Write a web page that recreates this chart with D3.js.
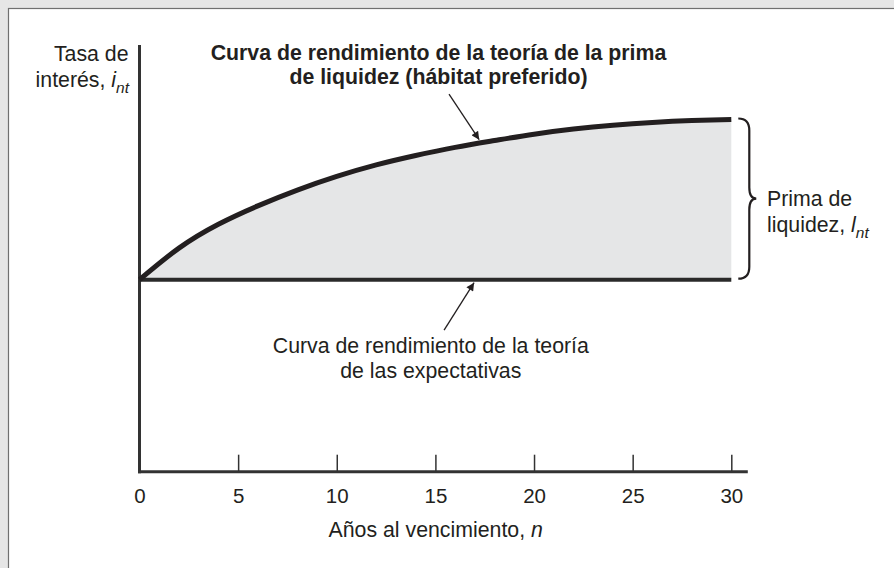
<!DOCTYPE html>
<html>
<head>
<meta charset="utf-8">
<script src="https://cdn.jsdelivr.net/npm/d3@7"></script>
<style>
  html, body { margin: 0; padding: 0; background: #e6e6e6; }
  svg { display: block; }
  text { font-family: "Liberation Sans", Arial, Helvetica, sans-serif; fill: #231f20; }
</style>
</head>
<body>
<div id="chart"></div>
<script>
// ---- data ----
const years = [0, 2, 4, 6, 8, 10, 12, 14, 16, 18, 20, 22, 24, 26, 28, 30];
const liquidityCurve = [4.50, 5.24, 5.80, 6.23, 6.60, 6.92, 7.19, 7.41, 7.60, 7.76, 7.91, 8.03, 8.12, 8.186, 8.23, 8.254];
const expectationsCurve = [4.50, 4.50, 4.50, 4.50, 4.50, 4.50, 4.50, 4.50, 4.50, 4.50, 4.50, 4.50, 4.50, 4.50, 4.50, 4.50];
const tickValues = [0, 5, 10, 15, 20, 25, 30];
const tickLabels = ["0", "5", "10", "15", "20", "25", "30"];
const titleLines = ["Curva de rendimiento de la teoría de la prima", "de liquidez (hábitat preferido)"];
const expLines = ["Curva de rendimiento de la teoría", "de las expectativas"];

const W = 894, H = 568;
const ink = "#231f20";
const fs = 21.3;

const svg = d3.select("#chart").append("svg").attr("width", W).attr("height", H);

// panel
svg.append("rect").attr("x", 8.5).attr("y", 8.5).attr("width", W).attr("height", H)
  .attr("fill", "#ffffff").attr("stroke", "#707070").attr("stroke-width", 1.2);

const x = d3.scaleLinear().domain([0, 30]).range([139.5, 731.3]);
const y = d3.scaleLinear().domain([0, 10]).range([471.7, 45]);

const pts = years.map((d, i) => ({ n: d, top: liquidityCurve[i], base: expectationsCurve[i] }));
const smooth = d3.curveNatural;

// shaded area (liquidity premium)
svg.append("path").datum(pts)
  .attr("fill", "#e5e6e7")
  .attr("d", d3.area().x(d => x(d.n)).y0(d => y(d.base)).y1(d => y(d.top)).curve(smooth));

// y axis line
svg.append("line")
  .attr("x1", x(0)).attr("x2", x(0))
  .attr("y1", y(10)).attr("y2", y(0) + 1.5)
  .attr("stroke", "#333").attr("stroke-width", 3);

// x axis
const xAxis = d3.axisBottom(x).tickValues(tickValues).tickFormat((d, i) => tickLabels[i])
  .tickSizeInner(-17).tickSizeOuter(0).tickPadding(17);
const gx = svg.append("g").attr("transform", `translate(0,${y(0)})`).call(xAxis);
gx.select(".domain").remove();
gx.selectAll(".tick line").attr("stroke", "#333").attr("stroke-width", 1.5);
gx.selectAll(".tick text").attr("font-size", 20.5).attr("fill", ink)
  .style("font-family", '"Liberation Sans", Arial, sans-serif');
gx.append("line")
  .attr("x1", x(0) - 1.5).attr("x2", x.range()[1] + 16.5)
  .attr("y1", 0).attr("y2", 0)
  .attr("stroke", "#333").attr("stroke-width", 3);

// expectations line (flat)
svg.append("path").datum(pts)
  .attr("fill", "none").attr("stroke", "#2a2a2a").attr("stroke-width", 4)
  .attr("d", d3.line().x(d => x(d.n)).y(d => y(d.base)));

// liquidity premium curve
svg.append("path").datum(pts)
  .attr("fill", "none").attr("stroke", ink).attr("stroke-width", 5).attr("stroke-linecap", "butt")
  .attr("d", d3.line().x(d => x(d.n)).y(d => y(d.top)).curve(smooth));

// arrow marker
const defs = svg.append("defs");
defs.append("marker").attr("id", "ah").attr("viewBox", "0 0 10 10")
  .attr("refX", 10).attr("refY", 5).attr("markerWidth", 11).attr("markerHeight", 8)
  .attr("markerUnits", "userSpaceOnUse").attr("orient", "auto")
  .append("path").attr("d", "M0,0 L10,5 L0,10 Z").attr("fill", ink);

// top arrow
svg.append("line")
  .attr("x1", x(15.69)).attr("y1", y(8.85))
  .attr("x2", x(17.22)).attr("y2", y(7.78))
  .attr("stroke", ink).attr("stroke-width", 1.3).attr("marker-end", "url(#ah)");
// bottom arrow
svg.append("line")
  .attr("x1", x(15.44)).attr("y1", y(3.32))
  .attr("x2", x(16.96)).attr("y2", y(4.43))
  .attr("stroke", ink).attr("stroke-width", 1.3).attr("marker-end", "url(#ah)");

// brace
const bTop = y(liquidityCurve[liquidityCurve.length - 1]) - 1;
const bBot = y(expectationsCurve[expectationsCurve.length - 1]) - 1;
const bx0 = x(30) + 7, bx1 = x(30) + 18, bxt = x(30) + 25;
const bMid = (bTop + bBot) / 2;
svg.append("path")
  .attr("d", `M${bx0},${bTop} Q${bx1},${bTop} ${bx1},${bTop + 12} L${bx1},${bMid - 11} Q${bx1},${bMid} ${bxt},${bMid} Q${bx1},${bMid} ${bx1},${bMid + 11} L${bx1},${bBot - 12} Q${bx1},${bBot} ${bx0},${bBot}`)
  .attr("fill", "none").attr("stroke", ink).attr("stroke-width", 2.2);

// title
const title = svg.append("text").attr("text-anchor", "middle").attr("font-weight", "bold").attr("font-size", fs);
titleLines.forEach((t, i) => title.append("tspan").attr("x", 438.5).attr("y", 59.5 + i * 24.5).text(t));

// expectations label
const exp = svg.append("text").attr("text-anchor", "middle").attr("font-size", fs);
expLines.forEach((t, i) => exp.append("tspan").attr("x", 430.8).attr("y", 352.7 + i * 24.8).text(t));

// y label
svg.append("text").attr("text-anchor", "end").attr("font-size", fs).attr("x", 128.5).attr("y", 61).text("Tasa de");
const yl2 = svg.append("text").attr("text-anchor", "end").attr("font-size", fs).attr("x", 129).attr("y", 87);
yl2.append("tspan").text("interés, ");
yl2.append("tspan").attr("font-style", "italic").text("i");
yl2.append("tspan").attr("font-style", "italic").attr("font-size", 15.5).attr("dy", 6).text("nt");

// right label
svg.append("text").attr("font-size", fs).attr("x", 767).attr("y", 206).text("Prima de");
const rl2 = svg.append("text").attr("font-size", fs).attr("x", 767).attr("y", 231.5);
rl2.append("tspan").text("liquidez, ");
rl2.append("tspan").attr("font-style", "italic").text("l");
rl2.append("tspan").attr("font-style", "italic").attr("font-size", 15.5).attr("dy", 6).text("nt");

// x label
const xl = svg.append("text").attr("text-anchor", "middle").attr("font-size", fs).attr("x", 435.7).attr("y", 536.7);
xl.append("tspan").text("Años al vencimiento, ");
xl.append("tspan").attr("font-style", "italic").text("n");
</script>
</body>
</html>
